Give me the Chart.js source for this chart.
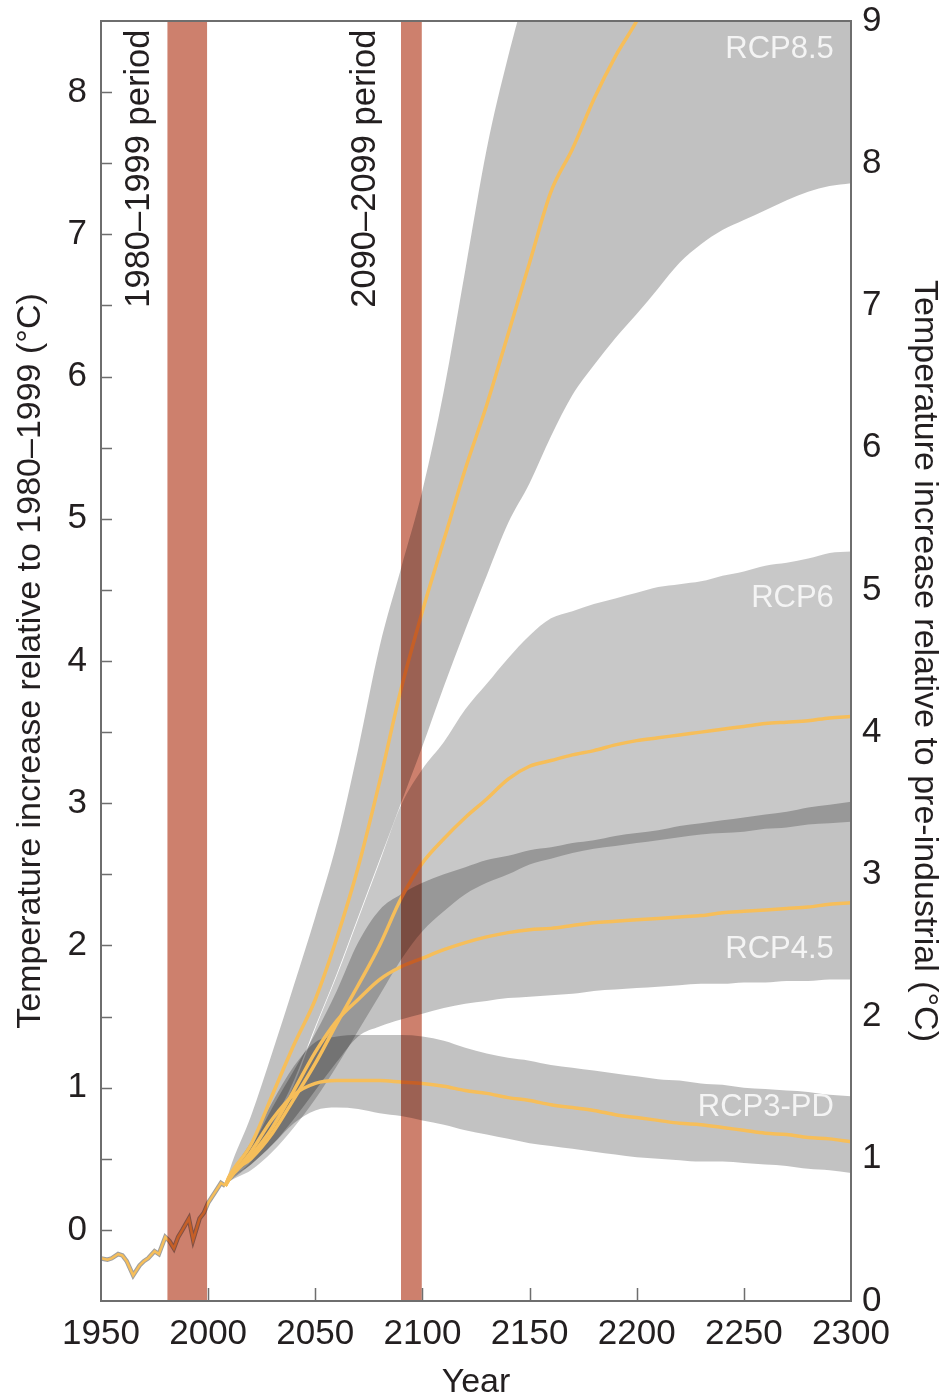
<!DOCTYPE html>
<html>
<head>
<meta charset="utf-8">
<script src="https://cdn.jsdelivr.net/npm/chart.js@4"></script>
<style>
  html, body { margin: 0; padding: 0; background: #fff; }
  canvas { display: block; }
</style>
</head>
<body>
<canvas id="chart" width="947" height="1400"></canvas>
<script>
// ── DATA ──
const histYears = [1950, 1953, 1955, 1958, 1960, 1962, 1965, 1968, 1970, 1972, 1975, 1977, 1980, 1982, 1984, 1986, 1988, 1991, 1993, 1996, 1998, 2000, 2003, 2006, 2008];
const histTemp  = [-0.2, -0.21, -0.2, -0.17, -0.18, -0.22, -0.32, -0.25, -0.22, -0.2, -0.15, -0.17, -0.05, -0.08, -0.13, -0.05, 0.0, 0.08, -0.07, 0.08, 0.12, 0.19, 0.26, 0.33, 0.31];

const years = [2008, 2010, 2020, 2030, 2040, 2050, 2060, 2070, 2080, 2090, 2100, 2110, 2120, 2130, 2140, 2150, 2160, 2170, 2180, 2190, 2200, 2210, 2220, 2230, 2240, 2250, 2260, 2270, 2280, 2290, 2300];

const rcp85Upper  = [0.31, 0.42, 0.8, 1.25, 1.72, 2.2, 2.72, 3.38, 4.1, 4.65, 5.2, 5.9, 6.75, 7.6, 8.25, 8.8, 9.3, 9.7, 10.0, 10.3, 10.6, 10.9, 11.2, 11.5, 11.8, 12.0, 12.2, 12.4, 12.6, 12.8, 13.0];
const rcp85Median = [0.31, 0.38, 0.6, 0.95, 1.3, 1.62, 2.05, 2.55, 3.15, 3.8, 4.35, 4.85, 5.35, 5.8, 6.3, 6.8, 7.3, 7.6, 7.95, 8.25, 8.5, 8.8, 9.05, 9.3, 9.5, 9.7, 9.9, 10.1, 10.3, 10.5, 10.7];
const rcp85Lower  = [0.31, 0.36, 0.5, 0.75, 1.05, 1.43, 1.8, 2.2, 2.6, 3.0, 3.4, 3.82, 4.22, 4.6, 4.97, 5.25, 5.58, 5.87, 6.08, 6.27, 6.44, 6.62, 6.8, 6.93, 7.03, 7.1, 7.17, 7.24, 7.3, 7.34, 7.36];

const rcp6Upper  = [0.31, 0.35, 0.48, 0.72, 1.02, 1.415, 1.785, 2.185, 2.585, 2.985, 3.24, 3.43, 3.66, 3.84, 4.02, 4.18, 4.3, 4.35, 4.4, 4.44, 4.48, 4.52, 4.54, 4.56, 4.6, 4.63, 4.67, 4.69, 4.72, 4.76, 4.77];
const rcp6Median = [0.31, 0.38, 0.5, 0.68, 0.92, 1.17, 1.45, 1.72, 2.0, 2.33, 2.58, 2.75, 2.9, 3.03, 3.17, 3.26, 3.3, 3.34, 3.37, 3.41, 3.44, 3.46, 3.48, 3.5, 3.52, 3.54, 3.56, 3.57, 3.58, 3.6, 3.61];
const rcp6Lower  = [0.31, 0.34, 0.42, 0.55, 0.72, 0.92, 1.15, 1.4, 1.65, 1.9, 2.1, 2.24, 2.36, 2.44, 2.5, 2.57, 2.61, 2.65, 2.68, 2.7, 2.72, 2.74, 2.76, 2.78, 2.79, 2.8, 2.82, 2.83, 2.85, 2.86, 2.87];

const rcp45Upper  = [0.31, 0.38, 0.58, 0.86, 1.12, 1.38, 1.68, 2.02, 2.25, 2.36, 2.44, 2.5, 2.55, 2.6, 2.63, 2.67, 2.69, 2.72, 2.74, 2.77, 2.79, 2.81, 2.84, 2.86, 2.88, 2.9, 2.92, 2.94, 2.97, 2.99, 3.01];
const rcp45Median = [0.31, 0.36, 0.52, 0.72, 0.98, 1.25, 1.47, 1.62, 1.76, 1.85, 1.91, 1.97, 2.02, 2.06, 2.09, 2.11, 2.12, 2.14, 2.16, 2.17, 2.18, 2.19, 2.2, 2.21, 2.23, 2.24, 2.25, 2.26, 2.27, 2.29, 2.3];
const rcp45Lower  = [0.31, 0.35, 0.46, 0.6, 0.78, 0.98, 1.18, 1.36, 1.43, 1.48, 1.52, 1.56, 1.59, 1.61, 1.63, 1.64, 1.65, 1.66, 1.68, 1.69, 1.7, 1.71, 1.72, 1.73, 1.73, 1.74, 1.74, 1.75, 1.75, 1.76, 1.76];

const rcp3Upper  = [0.31, 0.38, 0.62, 0.9, 1.15, 1.32, 1.36, 1.37, 1.37, 1.37, 1.36, 1.33, 1.28, 1.24, 1.21, 1.19, 1.16, 1.14, 1.12, 1.1, 1.08, 1.06, 1.05, 1.03, 1.02, 1.0, 0.99, 0.98, 0.97, 0.95, 0.94];
const rcp3Median = [0.31, 0.36, 0.55, 0.78, 0.95, 1.03, 1.05, 1.05, 1.05, 1.04, 1.03, 1.01, 0.98, 0.96, 0.93, 0.91, 0.88, 0.86, 0.84, 0.81, 0.79, 0.77, 0.75, 0.74, 0.72, 0.7, 0.68, 0.67, 0.65, 0.64, 0.62];
const rcp3Lower  = [0.31, 0.34, 0.46, 0.6, 0.75, 0.84, 0.86, 0.85, 0.82, 0.8, 0.77, 0.74, 0.7, 0.67, 0.64, 0.61, 0.59, 0.57, 0.55, 0.53, 0.51, 0.5, 0.49, 0.48, 0.48, 0.47, 0.46, 0.45, 0.43, 0.42, 0.4];

const rcpNames  = ['RCP8.5', 'RCP6', 'RCP4.5', 'RCP3-PD'];
const periods   = [[1981, 1999.5], [2090, 2099.7]];
const periodNames = ['1980\u20131999 period', '2090\u20132099 period'];

// ── STYLE ──
const FONT = "'Liberation Sans', Arial, sans-serif";
const INK = '#231f20';
const ORANGE = '#f6be5a';
const BAR = '#cd806d';
Chart.defaults.font.family = FONT;
Chart.defaults.color = INK;

const pts = (xs, ys) => xs.map((x, i) => ({ x, y: ys[i] }));

function line(data, color, width, order, smooth) {
    return {
        data, borderColor: color, borderWidth: width, fill: false,
        pointRadius: 0, order, clip: 0,
        cubicInterpolationMode: smooth ? 'monotone' : 'default', tension: 0
    };
}
function band(upper, lower, shade) {
    return [
        { data: pts(years, upper), fill: '+1', backgroundColor: shade, borderWidth: 0, pointRadius: 0, order: 3, cubicInterpolationMode: 'monotone', clip: 0 },
        { data: pts(years, lower), fill: false, borderWidth: 0, pointRadius: 0, order: 3, cubicInterpolationMode: 'monotone', clip: 0 }
    ];
}
// fixed box sizes so the plot frame lands where the reference has it
const fixWidth = w => s => { s.width = w; s.paddingTop = 0; s.paddingBottom = 0; };
const fixHeight = h => s => { s.height = h; s.paddingLeft = 0; s.paddingRight = 0; };

// ── DECORATION: bars, frame, inward ticks, labels ──
const decor = {
    id: 'decor',
    beforeDraw(chart) {
        const { ctx } = chart;
        ctx.save();
        ctx.fillStyle = '#fff';
        ctx.fillRect(0, 0, chart.width, chart.height);
        ctx.restore();
    },
    afterDatasetsDraw(chart) {
        const { ctx, chartArea: a, scales: { x, y } } = chart;
        ctx.save();

        // period bars, multiplied over what is beneath
        ctx.globalCompositeOperation = 'multiply';
        ctx.fillStyle = BAR;
        periods.forEach(([s, e]) => {
            const x0 = x.getPixelForValue(s), x1 = x.getPixelForValue(e);
            ctx.fillRect(x0, a.top, x1 - x0, a.bottom - a.top);
        });
        ctx.globalCompositeOperation = 'source-over';

        // frame
        ctx.strokeStyle = '#6e6e6e';
        ctx.lineWidth = 2;
        ctx.strokeRect(a.left, a.top, a.right - a.left, a.bottom - a.top);

        // inward ticks
        ctx.lineWidth = 1.5;
        ctx.beginPath();
        y.ticks.forEach(t => {
            if (t.value <= y.min || t.value >= y.max) return;
            const py = Math.round(y.getPixelForValue(t.value)) + 0.5;
            ctx.moveTo(a.left, py); ctx.lineTo(a.left + 11, py);
        });
        x.ticks.forEach(t => {
            if (t.value <= x.min || t.value >= x.max) return;
            const px = Math.round(x.getPixelForValue(t.value)) + 0.5;
            ctx.moveTo(px, a.bottom); ctx.lineTo(px, a.bottom - 13);
        });
        ctx.stroke();

        // scenario labels
        const labelY = [8.3, 4.44, 1.97, 0.86];
        ctx.font = '31px ' + FONT;
        ctx.fillStyle = '#f4f4f4';
        ctx.textAlign = 'right';
        ctx.textBaseline = 'middle';
        rcpNames.forEach((n, i) => ctx.fillText(n, x.getPixelForValue(2292), y.getPixelForValue(labelY[i])));

        // period labels, rotated
        const periodX = [1967.8, 2073.3];
        ctx.font = '34.5px ' + FONT;
        ctx.fillStyle = INK;
        periodNames.forEach((n, i) => {
            ctx.save();
            ctx.translate(x.getPixelForValue(periodX[i]), y.getPixelForValue(8.44));
            ctx.rotate(-Math.PI / 2);
            ctx.textAlign = 'right';
            ctx.textBaseline = 'middle';
            ctx.fillText(n, 0, 0);
            ctx.restore();
        });

        ctx.restore();
    }
};

// ── CHART ──
const ctx = document.getElementById('chart').getContext('2d');
new Chart(ctx, {
    type: 'line',
    data: {
        datasets: [
            line(pts(histYears, histTemp), ORANGE, 2.5, 0, false),
            line(pts(histYears, histTemp), 'rgba(80,80,80,0.55)', 4.5, 1, false),
            line(pts(years, rcp85Median), ORANGE, 3.5, 0, true),
            line(pts(years, rcp6Median), ORANGE, 3.5, 0, true),
            line(pts(years, rcp45Median), ORANGE, 3.5, 0, true),
            line(pts(years, rcp3Median), ORANGE, 3.5, 0, true),
            ...band(rcp85Upper, rcp85Lower, 'rgba(0,0,0,0.245)'),
            ...band(rcp6Upper, rcp6Lower, 'rgba(0,0,0,0.215)'),
            ...band(rcp45Upper, rcp45Lower, 'rgba(0,0,0,0.24)'),
            ...band(rcp3Upper, rcp3Lower, 'rgba(0,0,0,0.24)')
        ]
    },
    options: {
        responsive: false,
        devicePixelRatio: 1,
        animation: false,
        layout: { padding: { top: 21, left: 0, right: 0, bottom: 0 } },
        plugins: { legend: { display: false }, tooltip: { enabled: false } },
        scales: {
            x: {
                type: 'linear', min: 1950, max: 2300,
                grid: { display: false, drawTicks: false },
                border: { display: false },
                ticks: { stepSize: 50, autoSkip: false, maxRotation: 0, padding: 12, font: { size: 35 }, color: INK, callback: v => String(v) },
                title: { display: true, text: 'Year', font: { size: 34, lineHeight: 1 }, color: INK, padding: { top: 0, bottom: 0 } },
                afterFit: fixHeight(99)
            },
            y: {
                position: 'left', min: -0.5, max: 8.5,
                grid: { display: false, drawTicks: false },
                border: { display: false },
                ticks: {
                    stepSize: 0.5, autoSkip: false, padding: 14, font: { size: 35 }, color: INK,
                    callback: v => Number.isInteger(v) && v >= 0 ? String(v) : ''
                },
                title: { display: true, text: 'Temperature increase relative to 1980\u20131999 (\u00b0C)', font: { size: 34 }, color: INK, padding: { top: 10, bottom: 0 } },
                afterFit: fixWidth(101)
            },
            y2: {
                position: 'right', min: 0, max: 9,
                grid: { display: false, drawTicks: false },
                border: { display: false },
                ticks: { stepSize: 1, autoSkip: false, padding: 11, font: { size: 35 }, color: INK },
                title: { display: true, text: 'Temperature increase relative to pre-industrial (\u00b0C)', font: { size: 34 }, color: INK, padding: { top: 2, bottom: 0 } },
                afterFit: fixWidth(96)
            }
        }
    },
    plugins: [decor]
});
</script>
</body>
</html>
